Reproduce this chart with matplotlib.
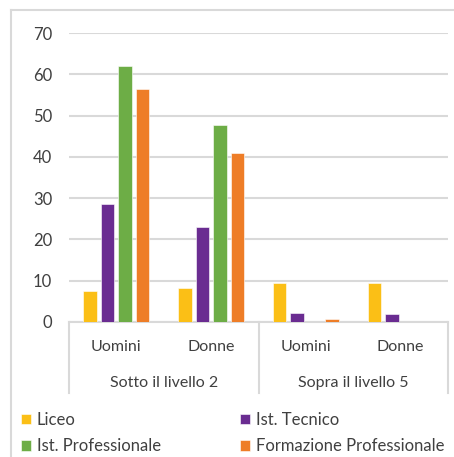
import numpy as np
import matplotlib.pyplot as plt
from matplotlib.lines import Line2D

# data
groups = ['Sotto il livello 2', 'Sopra il livello 5']
sexes = ['Uomini', 'Donne', 'Uomini', 'Donne']
series = ['Liceo', 'Ist. Tecnico', 'Ist. Professionale', 'Formazione Professionale']
liceo = [7.6, 8.3, 9.4, 9.4]
tecnico = [28.6, 23.1, 2.1, 1.9]
professionale = [62.1, 47.6, 0.0, 0.0]
formazione = [56.5, 41.0, 0.7, 0.0]
colors = ['#FBBF16', '#6A2C91', '#6DAD46', '#EE7D27']

plt.rcParams['font.family'] = ['Lato', 'DejaVu Sans']
text_col = '#404040'
grid_col = '#d9d9d9'

fig = plt.figure(figsize=(4.54, 4.57), dpi=100)
ax = fig.add_axes([69 / 454, 1 - 322 / 457, 379 / 454, 289 / 457])

x = np.arange(len(sexes))
pitch = 0.185
bw = 0.143
values = [liceo, tecnico, professionale, formazione]
for i, (vals, c) in enumerate(zip(values, colors)):
    ax.bar(x + (i - 1.5) * pitch, vals, bw, color=c, label=series[i],
           edgecolor='white', linewidth=0.4, zorder=3)

ax.set_xlim(-0.5, 3.5)
ax.set_ylim(0, 70)
ax.set_yticks(range(0, 71, 10))
ax.yaxis.grid(True, color=grid_col, linewidth=1.5, zorder=0)
ax.tick_params(axis='y', length=0, pad=12, labelsize=12, labelcolor=text_col)
ax.set_xticks([])
for s in ['top', 'right', 'left']:
    ax.spines[s].set_visible(False)
ax.spines['bottom'].set_color(grid_col)
ax.spines['bottom'].set_linewidth(1.5)

# two-level category axis
trans = ax.get_xaxis_transform()
for xi, lab in zip(x, sexes):
    ax.text(xi, -0.085, lab, transform=trans, ha='center', va='center',
            fontsize=11.5, color=text_col)
for gi, g in enumerate(groups):
    ax.text(gi * 2 + 0.5, -0.21, g, transform=trans, ha='center', va='center',
            fontsize=11.5, color=text_col)
for xs in [-0.5, 1.5, 3.5]:
    ax.add_line(Line2D([xs, xs], [0, -0.245], transform=trans, color=grid_col,
                       linewidth=1.5, clip_on=False))

# legend, filled row by row
h, l = ax.get_legend_handles_labels()
order = [0, 2, 1, 3]
fig.legend([h[k] for k in order], [l[k] for k in order], ncol=2,
           loc='upper left', bbox_to_anchor=(21 / 454, 1 - 412 / 457),
           frameon=False, fontsize=12, handlelength=0.6, handleheight=0.6,
           handletextpad=0.35, columnspacing=4.75, labelspacing=0.62,
           borderaxespad=0, borderpad=0, labelcolor=text_col)

# outer chart border
fig.add_artist(Line2D([11 / 454, 11 / 454], [0, 1 - 10 / 457], color=grid_col,
                      linewidth=1.5, transform=fig.transFigure))
fig.add_artist(Line2D([11 / 454, 1], [1 - 10 / 457, 1 - 10 / 457], color=grid_col,
                      linewidth=1.5, transform=fig.transFigure))

fig.savefig('out.png', dpi=100)
